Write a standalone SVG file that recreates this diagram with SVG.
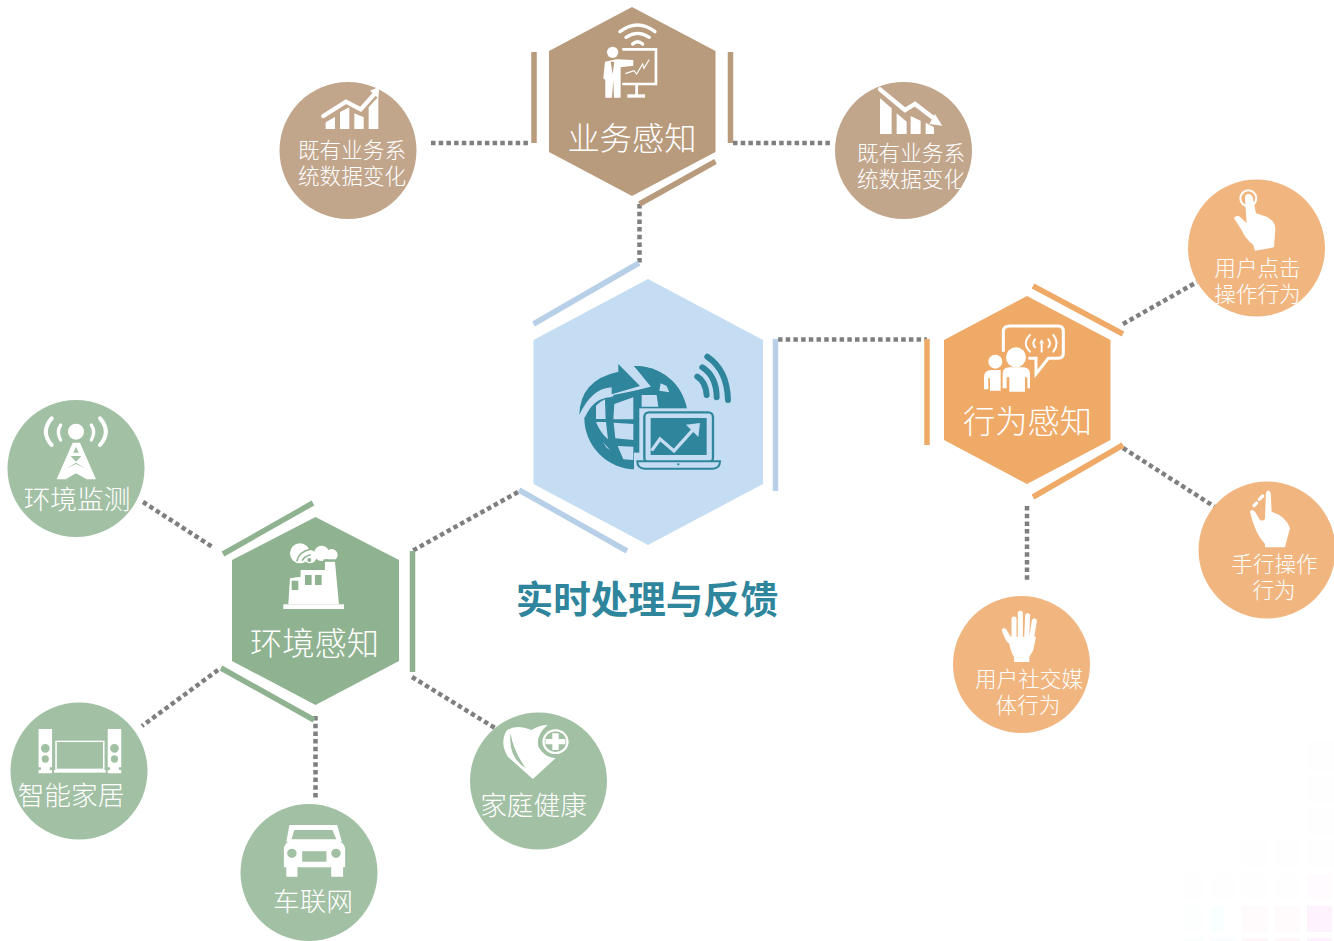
<svg xmlns="http://www.w3.org/2000/svg" width="1334" height="941" viewBox="0 0 1334 941">
<style>
text{font-family:"Noto Sans CJK SC","Liberation Sans",sans-serif;font-weight:300;fill:#fff;text-anchor:middle}
.h{font-size:32.3px}.m{font-size:26.7px}.s{font-size:21.6px}
.t{font-size:37.5px;font-weight:700;fill:#2e859c}
.dot{fill:none;stroke:#7f7f7f;stroke-width:4.500;stroke-dasharray:4.500 3.200}
.bb{stroke:#b89b7c}.bo{stroke:#efaa68}.bg{stroke:#8fb390}.bc{stroke:#b8cfe8}
.bar{stroke-width:5.500;fill:none}
.cb{fill:#c2a68c}.co{fill:#f1b680}.cg{fill:#a2c0a4}
.w{fill:#fff}.wl{fill:none;stroke:#fff;stroke-linecap:round}
.tl{fill:#2e859c}.li{fill:#c5ddf3}
</style>
<g id="watermark">
<rect x="1183" y="874" width="20" height="25" fill="#fefefe"/><rect x="1211" y="874" width="25" height="25" fill="#fefefe"/><rect x="1242" y="874" width="26" height="25" fill="#fefefe"/><rect x="1275" y="874" width="25" height="25" fill="#fefefe"/><rect x="1307" y="874" width="25" height="25" fill="#fffbfe"/>
<rect x="1183" y="906" width="20" height="26" fill="#fcfffd"/><rect x="1211" y="906" width="13" height="26" fill="#f9feff"/><rect x="1242" y="906" width="26" height="26" fill="#fffbfc"/><rect x="1275" y="906" width="25" height="26" fill="#fffafc"/><rect x="1307" y="906" width="25" height="26" fill="#fdf2fe"/>
<rect x="1183" y="938" width="20" height="3" fill="#f9fffd"/><rect x="1211" y="938" width="25" height="3" fill="#f8feff"/><rect x="1242" y="938" width="26" height="3" fill="#fff6fa"/><rect x="1275" y="938" width="25" height="3" fill="#fff7fa"/><rect x="1307" y="938" width="25" height="3" fill="#fdf1fe"/>
<rect x="1242" y="840" width="26" height="27" fill="#fefefe"/><rect x="1275" y="840" width="25" height="27" fill="#fefefe"/><rect x="1307" y="840" width="27" height="27" fill="#fefefe"/>
<rect x="1307" y="741" width="27" height="30" fill="#fefefe"/><rect x="1307" y="776" width="27" height="27" fill="#fefefe"/><rect x="1307" y="808" width="27" height="27" fill="#fefefe"/>
</g>
<g id="connectors">
<path class="dot" d="M431 143H531"/>
<path class="dot" d="M733 143H832"/>
<path class="dot" d="M639.500 204V263"/>
<path class="dot" d="M778 339.500H927"/>
<path class="dot" d="M1123 324L1197 282"/>
<path class="dot" d="M1123 448L1215 507"/>
<path class="dot" d="M1027 506V580"/>
<path class="dot" d="M143 502L214 548"/>
<path class="dot" d="M218 670L142 726"/>
<path class="dot" d="M315.500 716V800"/>
<path class="dot" d="M412 677L495 728"/>
<path class="dot" d="M518 492L412 551"/>
</g>
<g id="center">
<polygon points="648,279 763,340 763,484 648,545 533.500,484 533.500,340" fill="#c5ddf3"/>
<path class="bar bc" d="M533.500 324L639 263M775.500 339V491M519 490L627 551"/>
<g transform="translate(510 260) scale(.3333)">
<circle class="tl" cx="378" cy="473" r="155"/>
<path class="li" d="M195 280H372V318L430 378L300 412Q250 415 225 472H195Z"/>
<path class="tl" d="M208 465Q210 360 325 335V312L390 378L305 403V382Q245 385 208 465Z"/>
<path class="tl" d="M372 318Q490 320 530 440L480 440L465 395L435 395L372 318Z"/>
<path class="tl" d="M310 405L435 380L440 398L390 405V450H310Z"/>
<path class="li" d="M258 437Q270 425 285 418L287 477H258ZM258 486H288L294 538Q272 520 258 486ZM313 432L370 412V478H310ZM311 488L370 492V540L316 535ZM323 558L370 560V600L340 598ZM278 545L300 570L290 563ZM395 405H440L445 440H395ZM452 370L470 378L478 397L448 392Z"/>
<rect class="li" x="388" y="445" width="240" height="190"/>
<rect class="li" x="372" y="578" width="20" height="55"/>
<rect x="403" y="457" width="206" height="150" rx="14" fill="#c5ddf3" stroke="#2e859c" stroke-width="7"/>
<rect class="tl" x="422" y="474" width="168" height="111"/>
<path d="M425 572L450 537L492 573L555 503" fill="none" stroke="#c5ddf3" stroke-width="10"/>
<path class="li" d="M528 494L570 489L565 531Z"/>
<path d="M382 604H630Q630 626 608 626H404Q382 626 382 604Z" fill="#c5ddf3" stroke="#2e859c" stroke-width="6"/>
<circle class="tl" cx="505" cy="613" r="3.500"/>
<path d="M562 350Q587 365 590 405M577 322Q620 350 620 412M592 290Q652 330 654 420" fill="none" stroke="#2e859c" stroke-width="18" stroke-linecap="round"/>
</g>
<text class="t" x="647" y="613">实时处理与反馈</text>
</g>
<g id="business">
<polygon points="632,7 715.500,51 715.500,152 632,196 549,152 549,51" fill="#b89b7c"/>
<path class="bar bb" d="M534 52V143M730.500 52V143M639.500 204L715.500 161.500"/>
<g transform="translate(270 0) scale(.3333)">
<path class="wl" stroke-width="10" d="M1050 95Q1103 55 1155 95M1068 112Q1103 88 1138 112M1088 132Q1103 118 1118 132"/>
<circle class="w" cx="1028" cy="157" r="17"/>
<path class="w" d="M1005 185L1040 178L1090 180V197L1052 202V293H1032L1030 240L1026 293H1006V240L1000 235Z"/>
<path d="M1022 185L1028 222L1033 185Z" fill="#b89b7c"/>
<path class="wl" stroke-width="8" stroke-linecap="butt" d="M1060 148H1158V252H1060M1100 252V285"/>
<rect class="w" x="1072" y="283" width="53" height="10"/>
<path class="wl" stroke-width="3.500" d="M1068 220L1092 212L1100 222L1118 192L1122 205L1137 180"/>
</g>
<text class="h" x="632" y="150">业务感知</text>
</g>
<g id="biz-left">
<circle class="cb" cx="348" cy="150.500" r="68.500"/>
<g transform="translate(270 0) scale(.3333)">
<path class="w" d="M167 387V367L195 351V387ZM210 387V336L238 322V387ZM253 387V340L281 352V387ZM296 387V322L325 290V387Z"/>
<path class="wl" stroke-width="13" stroke-linecap="butt" d="M160 348L228 305L272 328L315 280"/>
<path class="w" d="M300 272L328 260L325 295Z"/>
</g>
<text class="s" x="352" y="158">既有业务系</text>
<text class="s" x="352" y="184">统数据变化</text>
</g>
<g id="biz-right">
<circle class="cb" cx="903.500" cy="150.500" r="68.500"/>
<g transform="translate(660 0) scale(.3333)">
<path class="w" d="M660 402V295L695 325V402ZM710 402V340L740 365V402ZM752 402V348L782 362V402ZM797 402V368L822 382V402Z"/>
<path class="wl" stroke-width="13" stroke-linecap="butt" d="M660 268L735 330L765 312L825 358"/>
<path class="w" d="M825 342L847 377L808 372Z"/>
</g>
<text class="s" x="911" y="161">既有业务系</text>
<text class="s" x="911" y="187">统数据变化</text>
</g>
<g id="behavior">
<polygon points="1027,296 1110.500,340 1110.500,440 1027,484 944,440 944,340" fill="#efaa68"/>
<path class="bar bo" d="M927 339V445M1033 286L1123 334M1123 445L1033 497"/>
<g transform="translate(920 170) scale(.3333)">
<path d="M250 545V485Q250 468 270 468H415Q430 468 430 485V550Q430 565 415 565H385L348 612V565H325" fill="none" stroke="#fff" stroke-width="9"/>
<path class="wl" stroke-width="6" d="M330 495Q305 520 330 545M345 508Q335 520 345 532M400 495Q420 520 400 545M385 508Q395 520 385 532M365 515V545"/>
<path class="w" d="M358 520L365 508L372 520Z"/>
<circle class="w" cx="226" cy="575" r="21"/>
<path class="w" d="M192 658V622Q192 600 215 600H245V662H210V625H205V658Z"/>
<circle cx="288" cy="562" r="36" fill="#efaa68"/>
<circle class="w" cx="288" cy="562" r="30"/>
<path d="M242 596H336V670H242Z" fill="#efaa68"/>
<path class="w" d="M248 655V612Q248 592 268 592H310Q330 592 330 612V655H322V622H315V665H268V622H260V655Z"/>
</g>
<text class="h" x="1027.500" y="433">行为感知</text>
</g>
<g id="click">
<circle class="co" cx="1256.500" cy="248" r="68.500"/>
<g transform="translate(920 170) scale(.3333)">
<circle cx="985" cy="85" r="24" fill="none" stroke="#fff" stroke-width="6"/>
<path class="w" d="M975 85Q975 70 988 72Q998 75 1000 90L1008 130L1040 140Q1068 155 1066 180L1062 232L1005 242L1000 225Q975 205 965 180L942 145Q948 135 960 140L980 160Z"/>
</g>
<text class="s" x="1257.500" y="276">用户点击</text>
<text class="s" x="1257.500" y="302">操作行为</text>
</g>
<g id="manual">
<circle class="co" cx="1267" cy="550" r="68.500"/>
<g transform="translate(940 470) scale(.3333)">
<path class="w" d="M978 68Q985 55 992 68L995 125Q1040 140 1050 175L1035 232H975V222Q945 190 930 125Q935 115 945 125L960 150Q975 155 975 145Z"/>
<path class="wl" stroke-width="10" d="M942 107L950 99M958 88L968 78"/>
</g>
<text class="s" x="1274.500" y="572">手行操作</text>
<text class="s" x="1274" y="598">行为</text>
</g>
<g id="social">
<circle class="co" cx="1021.500" cy="664.500" r="68.500"/>
<g transform="translate(940 470) scale(.3333)">
<path class="w" d="M205 520Q195 510 185 480Q192 468 200 480L218 510Z"/>
<path class="wl" stroke-width="15" d="M222 505L222 447M241 500V430M260 505L263 437M272 520L283 453"/>
<path class="w" d="M205 500H288L280 540Q272 555 268 560V576H222V560Q210 545 205 500Z"/>
</g>
<text class="s" x="1029" y="687">用户社交媒</text>
<text class="s" x="1028" y="713">体行为</text>
</g>
<g id="environment">
<polygon points="315.500,517 399,560 399,661 315.500,705 232,661 232,560" fill="#8fb390"/>
<path class="bar bg" d="M223 554L313 503M412.500 551V672M221 668L314 720"/>
<g transform="translate(0 390) scale(.3333)">
<rect class="w" x="850" y="643" width="182" height="14"/>
<path class="w" d="M865 643L870 565L902 560V540H975V515H1005L1017 643Z"/>
<path d="M875 572H895V600H875ZM915 555H935V585H915ZM945 555H965V585H945Z" fill="#8fb390"/>
<circle class="w" cx="900" cy="490" r="30"/><circle class="w" cx="965" cy="490" r="23"/><circle class="w" cx="995" cy="495" r="18"/><circle class="w" cx="930" cy="500" r="20"/>
<rect x="970" y="508" width="40" height="6" fill="#8fb390"/>
<path d="M890 514Q898 484 932 478M906 512Q914 498 932 494" fill="none" stroke="#8fb390" stroke-width="4.500"/>
<circle cx="928" cy="510" r="6" fill="#8fb390"/>
</g>
<text class="h" x="314.500" y="655">环境感知</text>
</g>
<g id="monitor">
<circle class="cg" cx="76" cy="468.500" r="68.500"/>
<g transform="translate(0 390) scale(.3333)">
<circle class="w" cx="228" cy="125" r="24"/>
<path class="wl" stroke-width="12" d="M155 85Q120 125 155 165M300 85Q335 125 300 165"/>
<path class="wl" stroke-width="10" d="M182 105Q168 125 182 150M274 105Q288 125 274 150"/>
<path class="w" d="M218 158L170 268H197L228 250L260 268H288L240 158Z"/>
<path d="M228 170L236 188H220ZM212 198H244L228 215ZM200 235L228 222L256 235L228 218Z" fill="#a2c0a4"/>
</g>
<text class="m" x="77" y="509">环境监测</text>
</g>
<g id="home">
<circle class="cg" cx="79" cy="771" r="68.500"/>
<g transform="translate(0 690) scale(.3975 .3333)">
<path class="w" d="M97 117H131V232H125V240H131V250H97V240H103V232H97ZM271 117H305V232H299V240H305V250H271V240H277V232H271Z"/>
<path d="M114 175m-11 0a11 13 0 1 0 22 0a11 13 0 1 0-22 0M114 207m-9 0a9 11 0 1 0 18 0a9 11 0 1 0-18 0M288 175m-11 0a11 13 0 1 0 22 0a11 13 0 1 0-22 0M288 207m-9 0a9 11 0 1 0 18 0a9 11 0 1 0-18 0" fill="#a2c0a4"/>
<rect x="141" y="154" width="120" height="84" fill="none" stroke="#fff" stroke-width="4"/>
<rect class="w" x="136" y="240" width="130" height="8"/>
</g>
<text class="m" x="71" y="805">智能家居</text>
</g>
<g id="car">
<circle class="cg" cx="309" cy="872.500" r="68.500"/>
<g transform="translate(-.7 690) scale(.3975 .3333)">
<path class="w" d="M730 405H850L862 455H722Z"/>
<path d="M742 420H838L848 448H735Z" fill="#a2c0a4"/>
<path class="w" d="M716 472Q722 452 740 450H845Q868 455 870 475V532H865V560H835V532H750V560H722V532H716Z"/>
<path d="M724 490a12 14 0 1 0 24 0a12 14 0 1 0-24 0M835 490a12 14 0 1 0 24 0a12 14 0 1 0-24 0M762 484H823V515H762Z" fill="#a2c0a4"/>
</g>
<text class="m" x="313" y="911">车联网</text>
</g>
<g id="health">
<circle class="cg" cx="538.500" cy="781" r="68.500"/>
<g transform="translate(-3 690) scale(.3975 .3333)">
<path class="w" d="M1348 267L1285 200Q1265 160 1280 125Q1300 100 1345 120Q1365 105 1385 105Q1355 135 1362 170Q1375 200 1405 205Z"/>
<path d="M1292 130Q1285 200 1330 235Q1298 180 1292 130Z" fill="#a2c0a4"/>
<ellipse cx="1405" cy="155" rx="33" ry="37" fill="#fff"/>
<ellipse cx="1405" cy="155" rx="27" ry="31" fill="#a2c0a4"/>
<path class="w" d="M1397 130H1413V147H1430V163H1413V180H1397V163H1380V147H1397Z"/>
</g>
<text class="m" x="533.500" y="815">家庭健康</text>
</g>
</svg>
